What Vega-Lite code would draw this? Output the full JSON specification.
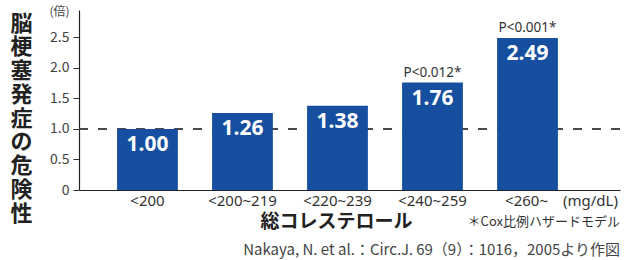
{
  "$schema": "https://vega.github.io/schema/vega-lite/v6.json",
  "autosize": {"type": "none"},
  "padding": {"left": 79, "top": 10, "right": 6, "bottom": 70},
  "width": 541,
  "height": 180,
  "background": "#ffffff",
  "config": {"view": {"stroke": null}},
  "title": {
    "text": "＊Cox比例ハザードモデル",
    "subtitle": "Nakaya, N. et al.：Circ.J. 69（9）：1016，2005より作図",
    "orient": "bottom",
    "anchor": "end",
    "frame": "group",
    "offset": -15,
    "font": "Noto Sans CJK JP",
    "fontSize": 13,
    "fontWeight": "normal",
    "color": "#333333",
    "subtitleFont": "Noto Sans CJK JP",
    "subtitleFontSize": 15,
    "subtitleColor": "#444444",
    "subtitlePadding": 14
  },
  "data": {
    "values": [
      {"cat": "<200", "value": 1.00, "label": "1.00", "p": ""},
      {"cat": "<200~219", "value": 1.26, "label": "1.26", "p": ""},
      {"cat": "<220~239", "value": 1.38, "label": "1.38", "p": ""},
      {"cat": "<240~259", "value": 1.76, "label": "1.76", "p": "P<0.012*"},
      {"cat": "<260~", "value": 2.49, "label": "2.49", "p": "P<0.001*"}
    ]
  },
  "encoding": {
    "x": {
      "field": "cat",
      "type": "nominal",
      "sort": null,
      "scale": {"paddingInner": 0.36, "paddingOuter": 0.527, "align": 0.38},
      "axis": {
        "title": "総コレステロール",
        "titleFont": "Noto Sans CJK JP",
        "titleFontSize": 19,
        "titleFontWeight": "bold",
        "titleColor": "#222222",
        "titleX": 257,
        "titleY": 31,
        "titleBaseline": "middle",
        "titleAlign": "center",
        "labelAngle": 0,
        "labelFont": "Noto Sans",
        "labelFontSize": 15,
        "labelColor": "#333333",
        "labelPadding": 3,
        "labelExpr": "datum.value == '<260~' ? '<260~　(mg/dL)' : datum.value",
        "labelOffset": {"condition": {"test": "datum.value == '<260~'", "value": 34}, "value": 0},
        "ticks": false,
        "domainColor": "#222222",
        "domainWidth": 1.2,
        "labelOverlap": false,
        "labelBound": false
      }
    },
    "y": {
      "field": "value",
      "type": "quantitative",
      "scale": {"domain": [0, 2.95], "nice": false},
      "axis": {
        "values": [0, 0.5, 1, 1.5, 2, 2.5, 2.93],
        "labelExpr": "datum.value > 2.9 ? '(倍)' : (datum.value == 0 ? '0' : format(datum.value, '.1f'))",
        "labelFont": "Noto Sans CJK JP",
        "labelFontSize": {"condition": {"test": "datum.value > 2.9", "value": 12}, "value": 14},
        "labelColor": "#444444",
        "labelPadding": 4,
        "labelOverlap": false,
        "labelBound": false,
        "tickSize": 6,
        "tickColor": {"condition": {"test": "datum.value > 2.9", "value": "transparent"}, "value": "#333333"},
        "domainColor": "#222222",
        "domainWidth": 1.2,
        "grid": false,
        "title": ["脳", "梗", "塞", "発", "症", "の", "危", "険", "性"],
        "titleFont": "Noto Sans CJK JP",
        "titleFontSize": 22,
        "titleFontWeight": "bold",
        "titleColor": "#222222",
        "titleAngle": 0,
        "titleAlign": "center",
        "titleBaseline": "top",
        "titleLineHeight": 23.75,
        "titleX": -58,
        "titleY": 3
      }
    }
  },
  "layer": [
    {
      "mark": {"type": "rule", "strokeDash": [9, 10], "color": "#444444", "strokeWidth": 1.2},
      "encoding": {
        "x": null,
        "y": {
          "datum": 1,
          "type": "quantitative",
          "scale": {"domain": [0, 2.95], "nice": false},
          "axis": {
            "values": [0, 0.5, 1, 1.5, 2, 2.5, 2.93],
            "labelExpr": "datum.value > 2.9 ? '(倍)' : (datum.value == 0 ? '0' : format(datum.value, '.1f'))",
            "labelFont": "Noto Sans CJK JP",
            "labelFontSize": {"condition": {"test": "datum.value > 2.9", "value": 12}, "value": 14},
            "labelColor": "#444444",
            "labelPadding": 4,
            "labelOverlap": false,
            "labelBound": false,
            "tickSize": 6,
            "tickColor": {"condition": {"test": "datum.value > 2.9", "value": "transparent"}, "value": "#333333"},
            "domainColor": "#222222",
            "domainWidth": 1.2,
            "grid": false,
            "title": ["脳", "梗", "塞", "発", "症", "の", "危", "険", "性"],
            "titleFont": "Noto Sans CJK JP",
            "titleFontSize": 22,
            "titleFontWeight": "bold",
            "titleColor": "#222222",
            "titleAngle": 0,
            "titleAlign": "center",
            "titleBaseline": "top",
            "titleLineHeight": 23.75,
            "titleX": -58,
            "titleY": 3
          }
        }
      }
    },
    {
      "mark": {"type": "bar", "color": "#164f9f"}
    },
    {
      "mark": {"type": "text", "color": "#ffffff", "font": "Noto Sans", "fontSize": 21, "fontWeight": "bold", "baseline": "top", "dy": 5},
      "encoding": {"text": {"field": "label"}}
    },
    {
      "mark": {"type": "text", "color": "#333333", "font": "Noto Sans", "fontSize": 13.5, "baseline": "bottom", "dy": -3},
      "encoding": {"text": {"field": "p"}}
    }
  ]
}
